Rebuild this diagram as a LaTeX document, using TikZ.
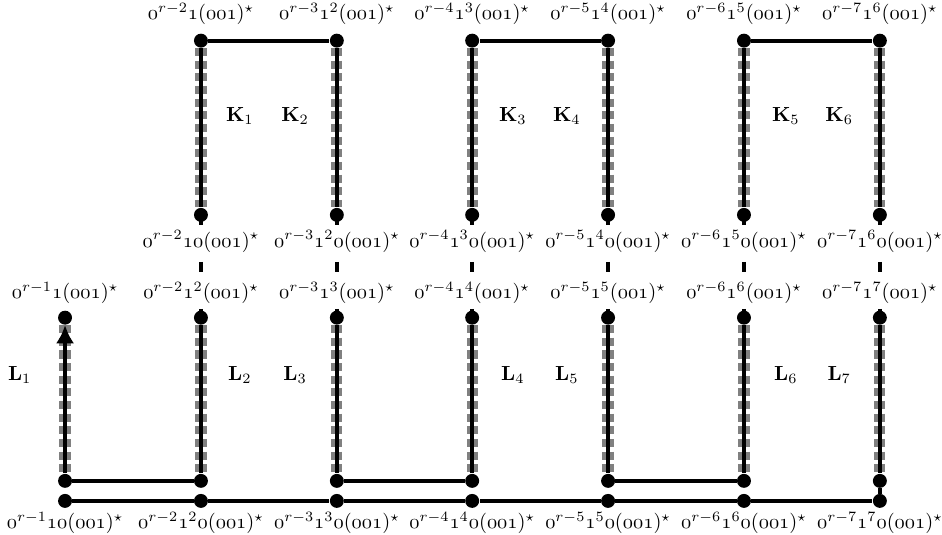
\documentclass[tikz,border=0pt]{standalone}
\usepackage{xcolor}
\usepackage{tikz}
\usetikzlibrary{arrows.meta}
\definecolor{PathGray}{HTML}{808080}
\newcommand{\os}[1]{\mathnormal{#1}}

\begin{document}
\begin{tikzpicture}[x=1cm,y=1cm,
  dot/.style={circle,fill=black,inner sep=0pt,minimum size=0.24cm},
  lab/.style={inner sep=0pt},
  edge/.style={line width=2pt},
  shade/.style={PathGray,line width=5.5pt,dash pattern=on 4pt off 2.2pt},
  gapline/.style={line width=2pt,dash pattern=on 4.9pt off 18.1pt}]
\path[use as bounding box] (0,0) rectangle (16.22,9.21);
% dots of the upper blocks
\node[dot] (kt2) at (3.46,8.51) {};
\node[dot] (kt3) at (5.80,8.51) {};
\node[dot] (kt4) at (8.13,8.51) {};
\node[dot] (kt5) at (10.47,8.51) {};
\node[dot] (kt6) at (12.81,8.51) {};
\node[dot] (kt7) at (15.15,8.51) {};
\node[dot] (kb2) at (3.46,5.51) {};
\node[dot] (kb3) at (5.80,5.51) {};
\node[dot] (kb4) at (8.13,5.51) {};
\node[dot] (kb5) at (10.47,5.51) {};
\node[dot] (kb6) at (12.81,5.51) {};
\node[dot] (kb7) at (15.15,5.51) {};
% dots of the lower blocks
\node[dot] (lt1) at (1.12,3.74) {};
\node[dot] (lt2) at (3.46,3.74) {};
\node[dot] (lt3) at (5.80,3.74) {};
\node[dot] (lt4) at (8.13,3.74) {};
\node[dot] (lt5) at (10.47,3.74) {};
\node[dot] (lt6) at (12.81,3.74) {};
\node[dot] (lt7) at (15.15,3.74) {};
\node[dot] (lb1) at (1.12,0.93) {};
\node[dot] (lb2) at (3.46,0.93) {};
\node[dot] (lb3) at (5.80,0.93) {};
\node[dot] (lb4) at (8.13,0.93) {};
\node[dot] (lb5) at (10.47,0.93) {};
\node[dot] (lb6) at (12.81,0.93) {};
\node[dot] (lb7) at (15.15,0.93) {};
\node[dot] (b1) at (1.12,0.585) {};
\node[dot] (b2) at (3.46,0.585) {};
\node[dot] (b3) at (5.80,0.585) {};
\node[dot] (b4) at (8.13,0.585) {};
\node[dot] (b5) at (10.47,0.585) {};
\node[dot] (b6) at (12.81,0.585) {};
\node[dot] (b7) at (15.15,0.585) {};
% gray shading under the vertical paths
\draw[shade] (kt2) -- (kb2);
\draw[shade] (kt3) -- (kb3);
\draw[shade] (kt4) -- (kb4);
\draw[shade] (kt5) -- (kb5);
\draw[shade] (kt6) -- (kb6);
\draw[shade] (kt7) -- (kb7);
\draw[shade] (lt1) -- (lb1);
\draw[shade] (lt2) -- (lb2);
\draw[shade] (lt3) -- (lb3);
\draw[shade] (lt4) -- (lb4);
\draw[shade] (lt5) -- (lb5);
\draw[shade] (lt6) -- (lb6);
\draw[shade] (lt7) -- (lb7);
% upper blocks
\draw[edge] (kb2) -- (kt2) -- (kt3) -- (kb3);
\draw[edge] (kb4) -- (kt4) -- (kt5) -- (kb5);
\draw[edge] (kb6) -- (kt6) -- (kt7) -- (kb7);
% links between the two levels
\draw[gapline] (kb2.center) -- (lt2.center);
\draw[gapline] (kb3.center) -- (lt3.center);
\draw[gapline] (kb4.center) -- (lt4.center);
\draw[gapline] (kb5.center) -- (lt5.center);
\draw[gapline] (kb6.center) -- (lt6.center);
\draw[gapline] (kb7.center) -- (lt7.center);
% lower blocks
\draw[edge,-{Latex[length=9pt,width=9pt]}] (lb1) -- (lt1);
\draw[edge] (lb1) -- (lb2) -- (lt2);
\draw[edge] (lt3) -- (lb3) -- (lb4) -- (lt4);
\draw[edge] (lt5) -- (lb5) -- (lb6) -- (lt6);
\draw[edge] (lt7) -- (lb7) -- (b7);
\draw[edge] (b1) -- (b2) -- (b3) -- (b4) -- (b5) -- (b6) -- (b7);
% block names
\node[lab] (k1) at (4.13,7.22) {$\mathbf{K}_1$};
\node[lab] (k2) at (5.08,7.22) {$\mathbf{K}_2$};
\node[lab] (k3) at (8.83,7.22) {$\mathbf{K}_3$};
\node[lab] (k4) at (9.76,7.22) {$\mathbf{K}_4$};
\node[lab] (k5) at (13.53,7.22) {$\mathbf{K}_5$};
\node[lab] (k6) at (14.45,7.22) {$\mathbf{K}_6$};
\node[lab] (l1) at (0.34,2.76) {$\mathbf{L}_1$};
\node[lab] (l2) at (4.13,2.76) {$\mathbf{L}_2$};
\node[lab] (l3) at (5.08,2.76) {$\mathbf{L}_3$};
\node[lab] (l4) at (8.83,2.76) {$\mathbf{L}_4$};
\node[lab] (l5) at (9.76,2.76) {$\mathbf{L}_5$};
\node[lab] (l6) at (13.53,2.76) {$\mathbf{L}_6$};
\node[lab] (l7) at (14.45,2.76) {$\mathbf{L}_7$};
% words at the top
\node[lab] (kt2w) at (3.46,8.97) {$\os{0}^{r-2}\os{1}(\os{001})^\star$};
\node[lab] (kt3w) at (5.80,8.97) {$\os{0}^{r-3}\os{1}^{2}(\os{001})^\star$};
\node[lab] (kt4w) at (8.13,8.97) {$\os{0}^{r-4}\os{1}^{3}(\os{001})^\star$};
\node[lab] (kt5w) at (10.47,8.97) {$\os{0}^{r-5}\os{1}^{4}(\os{001})^\star$};
\node[lab] (kt6w) at (12.81,8.97) {$\os{0}^{r-6}\os{1}^{5}(\os{001})^\star$};
\node[lab] (kt7w) at (15.15,8.97) {$\os{0}^{r-7}\os{1}^{6}(\os{001})^\star$};
% words below the upper blocks
\node[lab] (kb2w) at (3.46,5.05) {$\os{0}^{r-2}\os{10}(\os{001})^\star$};
\node[lab] (kb3w) at (5.80,5.05) {$\os{0}^{r-3}\os{1}^{2}\os{0}(\os{001})^\star$};
\node[lab] (kb4w) at (8.13,5.05) {$\os{0}^{r-4}\os{1}^{3}\os{0}(\os{001})^\star$};
\node[lab] (kb5w) at (10.47,5.05) {$\os{0}^{r-5}\os{1}^{4}\os{0}(\os{001})^\star$};
\node[lab] (kb6w) at (12.81,5.05) {$\os{0}^{r-6}\os{1}^{5}\os{0}(\os{001})^\star$};
\node[lab] (kb7w) at (15.15,5.05) {$\os{0}^{r-7}\os{1}^{6}\os{0}(\os{001})^\star$};
% words above the lower blocks
\node[lab] (lt1w) at (1.12,4.17) {$\os{0}^{r-1}\os{1}(\os{001})^\star$};
\node[lab] (lt2w) at (3.46,4.17) {$\os{0}^{r-2}\os{1}^{2}(\os{001})^\star$};
\node[lab] (lt3w) at (5.80,4.17) {$\os{0}^{r-3}\os{1}^{3}(\os{001})^\star$};
\node[lab] (lt4w) at (8.13,4.17) {$\os{0}^{r-4}\os{1}^{4}(\os{001})^\star$};
\node[lab] (lt5w) at (10.47,4.17) {$\os{0}^{r-5}\os{1}^{5}(\os{001})^\star$};
\node[lab] (lt6w) at (12.81,4.17) {$\os{0}^{r-6}\os{1}^{6}(\os{001})^\star$};
\node[lab] (lt7w) at (15.15,4.17) {$\os{0}^{r-7}\os{1}^{7}(\os{001})^\star$};
% words at the bottom
\node[lab] (b1w) at (1.12,0.21) {$\os{0}^{r-1}\os{10}(\os{001})^\star$};
\node[lab] (b2w) at (3.46,0.21) {$\os{0}^{r-2}\os{1}^{2}\os{0}(\os{001})^\star$};
\node[lab] (b3w) at (5.80,0.21) {$\os{0}^{r-3}\os{1}^{3}\os{0}(\os{001})^\star$};
\node[lab] (b4w) at (8.13,0.21) {$\os{0}^{r-4}\os{1}^{4}\os{0}(\os{001})^\star$};
\node[lab] (b5w) at (10.47,0.21) {$\os{0}^{r-5}\os{1}^{5}\os{0}(\os{001})^\star$};
\node[lab] (b6w) at (12.81,0.21) {$\os{0}^{r-6}\os{1}^{6}\os{0}(\os{001})^\star$};
\node[lab] (b7w) at (15.15,0.21) {$\os{0}^{r-7}\os{1}^{7}\os{0}(\os{001})^\star$};
\end{tikzpicture}
\end{document}
